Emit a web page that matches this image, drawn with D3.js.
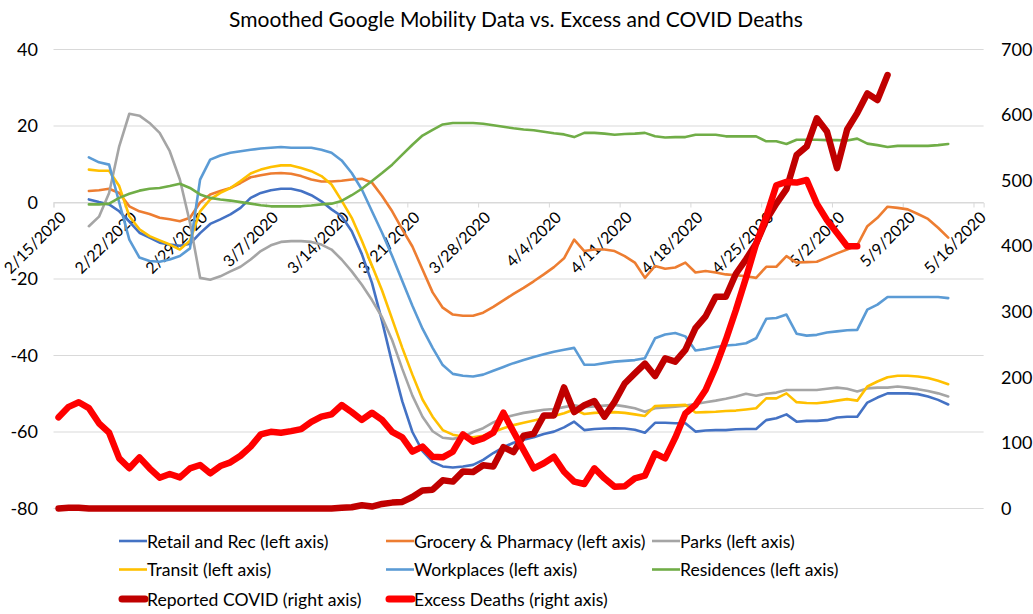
<!DOCTYPE html>
<html><head><meta charset="utf-8">
<script src="https://cdn.jsdelivr.net/npm/d3@7"></script>
<style>
body{margin:0;background:#fff}
text{font-family:Lato,"Open Sans",sans-serif;fill:#000}
</style>
</head><body>
<svg id="chart" width="1033" height="614"></svg>
<script>
// ---------- data ----------
const chartTitle = "Smoothed Google Mobility Data vs. Excess and COVID Deaths";
const axisStart = "2020-02-15";
const axisEnd = "2020-05-17";
const dateTickLabels = ["2/15/2020","2/22/2020","2/29/2020","3/7/2020","3/14/2020","3/21/2020","3/28/2020","4/4/2020","4/11/2020","4/18/2020","4/25/2020","5/2/2020","5/9/2020","5/16/2020"];
const leftTicks = [-80,-60,-40,-20,0,20,40];
const rightTicks = [0,100,200,300,400,500,600,700];

const mobilityStart = "2020-02-18";
const retailRec = [0.8,0.1,-0.5,-2.3,-5.0,-7.9,-9.2,-10.5,-11.0,-11.3,
 -10.8,-8.0,-5.6,-4.4,-3.1,-1.4,1.2,2.5,3.2,3.6,
 3.6,3.0,1.9,0.3,-1.8,-3.6,-7.5,-13.5,-21,-31,
 -42,-52,-60,-65,-67.8,-69,-69.3,-69,-68.6,-67.3,
 -65.5,-64,-62.8,-62,-61.4,-60.5,-59.9,-58.8,-57.3,-59.5,
 -59.2,-59.1,-59,-59.1,-59.4,-60.2,-57.6,-57.6,-57.7,-57.7,
 -59.9,-59.6,-59.5,-59.5,-59.3,-59.2,-59.2,-56.9,-56.4,-55.4,
 -57.3,-57.1,-57.1,-56.9,-56.2,-56,-56,-52.3,-51,-49.9,
 -49.9,-49.9,-50.1,-50.7,-51.6,-52.8];
const groceryPharmacy = [3.0,3.2,3.6,2.5,-1.0,-2.3,-3.0,-4.0,-4.4,-4.9,
 -4.0,0.0,2.1,3.0,3.8,5.1,6.6,7.1,7.6,7.7,
 7.5,6.9,6.0,5.5,5.5,5.7,6.0,6.2,5.2,1.7,
 -2.3,-7.0,-11.5,-17.5,-23.5,-27.5,-29.3,-29.6,-29.6,-28.8,
 -27.3,-25.6,-23.9,-22.3,-20.6,-18.8,-16.9,-14.6,-9.7,-12.7,
 -12.3,-12.3,-12.7,-14.0,-15.7,-19.7,-16.6,-17.3,-17.0,-15.7,
 -18.3,-17.9,-18.3,-18.8,-19.0,-19.3,-19.7,-16.8,-16.8,-14.0,
 -15.7,-15.6,-15.5,-14.4,-13.3,-12.3,-11.2,-6.2,-4.0,-1.1,
 -1.4,-1.8,-3.0,-4.3,-6.6,-9.2];
const parks = [-6.2,-3.7,2.5,14.7,23.2,22.7,20.8,18.2,13.4,6.0,
 -5.3,-19.7,-20.2,-19.3,-18.0,-16.8,-14.9,-12.7,-11.2,-10.3,
 -10.1,-10.1,-10.3,-11.0,-12.3,-14.9,-18.0,-21.5,-25.5,-30.0,
 -36.0,-43.5,-50.5,-56.0,-59.8,-61.5,-61.8,-61.3,-60.0,-59.0,
 -57.5,-56.3,-55.6,-55.0,-54.6,-54.2,-54.0,-53.5,-53.0,-53.5,
 -53.3,-53.1,-52.9,-53.3,-53.8,-54.7,-53.8,-53.6,-53.4,-53.1,
 -52.7,-52.2,-51.8,-51.3,-50.7,-50.0,-50.5,-50.0,-49.7,-49.0,
 -49.0,-49.0,-49.0,-48.7,-48.4,-48.7,-49.4,-48.6,-48.4,-48.4,
 -48.1,-48.4,-48.8,-49.3,-49.9,-50.7];
const transit = [8.6,8.3,8.3,4.3,-3.6,-7.0,-8.8,-9.9,-11.0,-12.3,
 -10.0,-2.3,0.8,2.5,3.8,5.6,7.6,8.6,9.3,9.7,
 9.7,9.0,8.2,6.9,4.7,0.5,-4.0,-10.0,-16.5,-23.0,
 -30.5,-38.0,-45.0,-51.5,-56.0,-59.5,-60.7,-61.2,-61.4,-61.0,
 -60.0,-59.0,-58.2,-57.6,-57.0,-56.4,-55.8,-55.1,-54.1,-55.3,
 -55.0,-54.9,-54.8,-55.0,-55.4,-55.8,-53.2,-53.1,-53.0,-52.9,
 -54.9,-54.8,-54.7,-54.5,-54.4,-54.1,-53.8,-51.2,-51.2,-49.9,
 -52.2,-52.4,-52.5,-52.2,-51.8,-51.4,-51.8,-48.1,-46.8,-45.7,
 -45.3,-45.3,-45.5,-45.9,-46.6,-47.5];
const workplaces = [11.8,10.5,9.9,0.0,-9.7,-14.4,-15.3,-15.5,-14.9,-14.0,
 -12.0,6.0,11.2,12.3,13.0,13.4,13.8,14.1,14.3,14.5,
 14.3,14.3,14.3,13.8,13.0,11.0,7.7,3.4,-2.3,-7.9,
 -14.0,-20.5,-27.0,-33.0,-38.0,-42.5,-44.8,-45.3,-45.5,-45.0,
 -44.0,-43.0,-42.0,-41.2,-40.4,-39.7,-39.0,-38.5,-38.0,-42.4,
 -42.4,-42.0,-41.6,-41.4,-41.2,-40.7,-35.5,-34.5,-34.1,-35.0,
 -38.7,-38.3,-37.8,-37.4,-37.2,-36.8,-35.5,-30.4,-30.2,-29.3,
 -34.3,-34.8,-34.6,-34.0,-33.7,-33.4,-33.3,-28.0,-26.7,-24.7,
 -24.7,-24.7,-24.7,-24.7,-24.7,-25.0];
const residences = [-0.5,-0.5,-0.3,1.2,2.3,3.1,3.6,3.8,4.3,4.9,
 3.8,2.1,1.2,0.8,0.5,0.1,-0.3,-0.7,-1.0,-1.0,
 -1.0,-1.0,-0.8,-0.5,-0.3,0.4,1.9,3.6,5.6,7.7,
 9.9,12.5,15.1,17.5,19.0,20.4,20.8,20.8,20.8,20.6,
 20.2,19.8,19.4,19.1,18.9,18.5,18.1,17.8,17.1,18.2,
 18.2,18.0,17.7,17.9,18.0,18.2,17.3,17.0,17.1,17.1,
 17.7,17.7,17.7,17.3,17.3,17.3,17.3,16.0,16.0,15.3,
 16.4,16.4,16.4,16.3,16.3,16.2,16.7,15.4,15.0,14.5,
 14.8,14.8,14.8,14.8,15.0,15.3];

const deathsStart = "2020-02-15";
const reportedCovid = [0,1,1,0,0,0,0,0,0,0,
 0,0,0,0,0,0,0,0,0,0,
 0,0,0,0,0,0,0,0,1,2,
 5,3,7,9,10,17.5,27.6,28.6,43,41,
 56.6,55.6,66,64,93.5,86,111,114,142,142,
 184.6,147,157.4,164,140,162.7,190.6,206,221,202,
 229,224,242,275,293,323,323,358,380,404,
 440,465,487,539,552,595,575,519,578,603,
 633,623,661];
const excessDeaths = [139,155,162,153,130,115.6,76.5,61.3,78,61.3,
 47,52.6,47.5,61.3,66.3,53.6,64.8,70.4,80.5,94.3,
 113,117,115.6,118,121,132,140,143.6,157.8,147,
 135,146,135,117,108.6,86.6,94.3,79,78,86.6,
 113,102,107,115.6,146,117,89,61.3,69,79,
 56,40.9,37.4,61.3,46,33.2,34,46,50,84,
 76.5,108,145,157.8,180.7,216,257,302.7,352,404,
 445,493,498,497,501,465,440,420,400,400];

const seriesNames = ["Retail and Rec (left axis)","Grocery & Pharmacy (left axis)","Parks (left axis)","Transit (left axis)","Workplaces (left axis)","Residences (left axis)","Reported COVID (right axis)","Excess Deaths (right axis)"];
const seriesColors = ["#4472C4","#ED7D31","#A5A5A5","#FFC000","#5B9BD5","#70AD47","#C00000","#FF0000"];

// ---------- chart ----------
const svg = d3.select("#chart");
const parse = d3.utcParse("%Y-%m-%d");
const x = d3.scaleUtc().domain([parse(axisStart), parse(axisEnd)]).range([53.5, 983.6]);
const yL = d3.scaleLinear().domain([-80, 40]).range([508.5, 49.5]);
const yR = d3.scaleLinear().domain([0, 700]).range([508.5, 49.5]);
const gridColor = "#D9D9D9";

// title
svg.append("text").attr("x", 516).attr("y", 18).attr("text-anchor","middle")
  .attr("dominant-baseline","central").style("font-size","21px").text(chartTitle);

// gridlines + value axes
const gGrid = svg.append("g");
leftTicks.forEach(t => {
  gGrid.append("line").attr("x1", 53.5).attr("x2", 983.6).attr("y1", yL(t)).attr("y2", yL(t))
    .attr("stroke", gridColor).attr("stroke-width", 1);
});
svg.append("g").attr("transform","translate(38,0)")
  .call(d3.axisLeft(yL).tickValues(leftTicks).tickSize(0).tickPadding(0).tickFormat(d => String(d)))
  .call(g => g.select(".domain").remove())
  .call(g => g.selectAll("text").style("font-size","18px").style("font-family","Lato").attr("fill","#000"));
svg.append("g").attr("transform","translate(1001,0)")
  .call(d3.axisRight(yR).tickValues(rightTicks).tickSize(0).tickPadding(0).tickFormat(d => String(d)))
  .call(g => g.select(".domain").remove())
  .call(g => g.selectAll("text").style("font-size","18px").style("font-family","Lato").attr("fill","#000"));

// category axis at zero
const tickDates = dateTickLabels.map(s => { const p = s.split("/"); return new Date(Date.UTC(+p[2], +p[0]-1, +p[1])); });
const gx = svg.append("g").attr("transform", `translate(0,${yL(0)})`);
gx.call(d3.axisBottom(x).tickValues(tickDates).tickSize(5).tickFormat((d,i) => dateTickLabels[i]))
  .call(g => g.select(".domain").attr("stroke", gridColor))
  .call(g => g.selectAll(".tick line").attr("stroke", gridColor))
  .call(g => g.selectAll("text")
     .style("font-size","16px").style("font-family","Lato").attr("fill","#000")
     .attr("text-anchor","end").attr("dy", null).attr("y", 0)
     .attr("transform","translate(13,16) rotate(-45)"));

// lines
const mob = [retailRec, groceryPharmacy, parks, transit, workplaces, residences];
const toPoints = (arr, start) => arr.map((v,i) => ({d: d3.utcHour.offset(d3.utcDay.offset(parse(start), i), 12), v}));
const lineL = d3.line().x(p => x(p.d)).y(p => yL(p.v));
const lineR = d3.line().x(p => x(p.d)).y(p => yR(p.v));
const gLines = svg.append("g").attr("fill","none").attr("stroke-linejoin","round").attr("stroke-linecap","round");
mob.forEach((arr, i) => {
  gLines.append("path").attr("d", lineL(toPoints(arr, mobilityStart)))
    .attr("stroke", seriesColors[i]).attr("stroke-width", 2.6);
});
[reportedCovid, excessDeaths].forEach((arr, j) => {
  gLines.append("path").attr("d", lineR(toPoints(arr, deathsStart)))
    .attr("stroke", seriesColors[6+j]).attr("stroke-width", 6.5);
});

// legend
const legX = [119, 386, 652];
const legY = [541, 569.5, 599];
const gLeg = svg.append("g");
seriesNames.forEach((name, i) => {
  const cx = legX[i % 3], cy = legY[Math.floor(i / 3)];
  const thick = i >= 6;
  gLeg.append("line").attr("x1", thick ? cx + 3 : cx).attr("x2", thick ? cx + 26 : cx + 28)
    .attr("y1", cy).attr("y2", cy).attr("stroke", seriesColors[i])
    .attr("stroke-width", thick ? 7 : 2.6).attr("stroke-linecap", thick ? "round" : "butt");
  gLeg.append("text").attr("x", cx + 28).attr("y", cy).attr("dominant-baseline","central")
    .style("font-size","17.6px").text(name);
});
</script>
</body></html>
